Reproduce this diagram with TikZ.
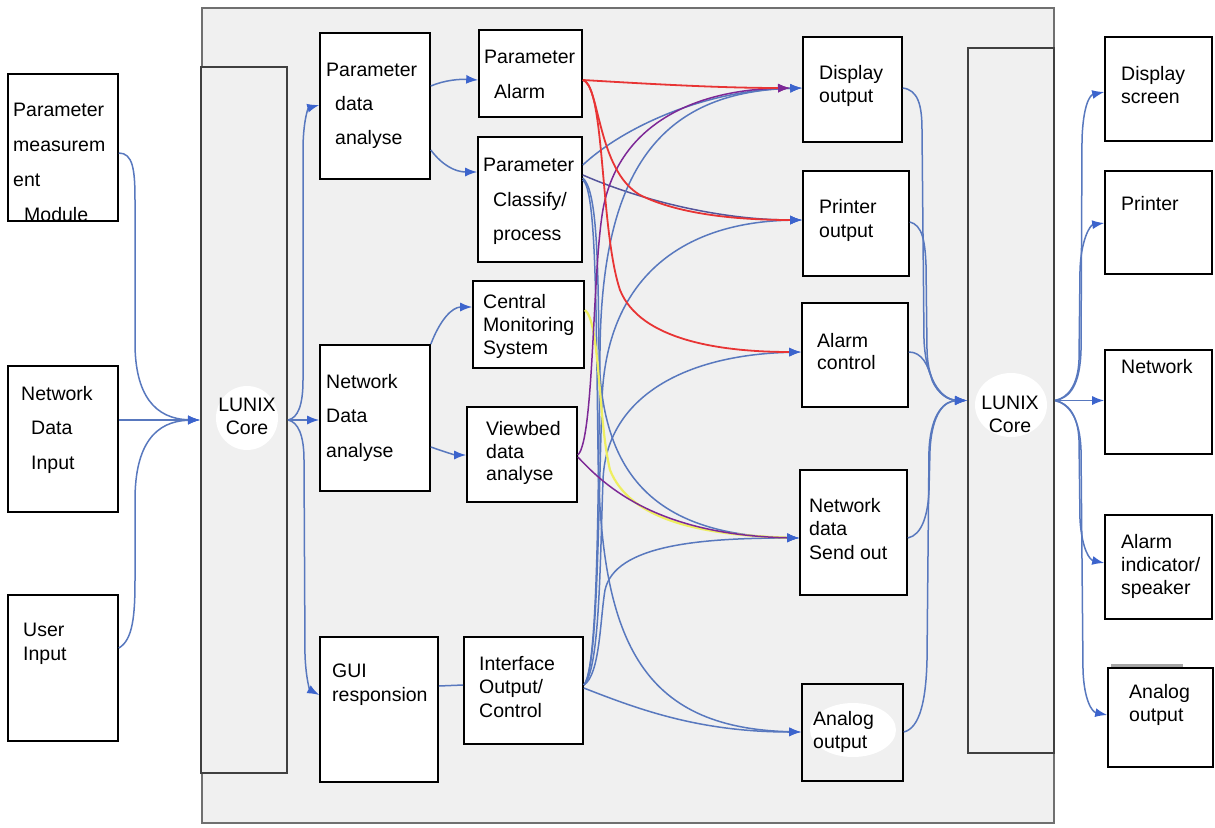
\documentclass[tikz,border=0pt]{standalone}
\usepackage{fontspec}
\setmainfont{Liberation Sans}
\usetikzlibrary{arrows.meta}

\definecolor{panelfill}{RGB}{240,240,240}
\definecolor{paneledge}{RGB}{112,112,112}
\definecolor{coreedge}{RGB}{64,64,64}
\definecolor{cline}{RGB}{88,120,190}
\definecolor{ctip}{RGB}{60,100,205}
\definecolor{credl}{RGB}{232,52,52}
\definecolor{cpurple}{RGB}{125,40,150}
\definecolor{cyellow}{RGB}{238,238,96}
\definecolor{cdark}{RGB}{85,85,155}

% multi-line label: name, position, line spacing, text
\newcommand{\boxtext}[4]{\node[lbl,font=\fontsize{19.5pt}{#3pt}\selectfont] (#1) at (#2) {#4};}

\begin{document}
\begin{tikzpicture}[x=1pt,y=-1pt,
  box/.style={draw=black,line width=1.6pt,fill=white,inner sep=0pt},
  corebox/.style={draw=coreedge,line width=2pt,fill=panelfill,inner sep=0pt},
  lbl/.style={anchor=north west,inner sep=0pt,align=left},
  corelbl/.style={anchor=north,inner sep=0pt,align=center,font=\fontsize{19.5pt}{23pt}\selectfont},
  conn/.style={draw=cline,line width=1.5pt,-{Latex[length=12pt,width=9pt,color=ctip]}},
  plain/.style={draw=cline,line width=1.5pt},
  redconn/.style={draw=credl,line width=1.8pt,-{Latex[length=12pt,width=9pt,color=ctip]}},
  purpconn/.style={draw=cpurple,line width=1.5pt,-{Latex[length=12pt,width=9pt,color=cpurple]}},
  yelconn/.style={draw=cyellow,line width=2.2pt,-{Latex[length=12pt,width=9pt,color=ctip]}}
]
\useasboundingbox (0,0) rectangle (1215,827);
\fill[white] (0,0) rectangle (1215,827);

% system panel
\draw[fill=panelfill,draw=paneledge,line width=2.2pt] (202,8) rectangle (1054,823);

% kernel columns
\node[corebox,minimum width=86,minimum height=706] (core1) at (244,420) {};
\node[corebox,minimum width=86,minimum height=705] (core2) at (1011,400.5) {};
\fill[white] (247,418) ellipse [x radius=31pt, y radius=32pt];
\fill[white] (1011,405) ellipse [x radius=36pt, y radius=32pt];
\node[corelbl] (core1t) at (247,398) {LUNIX\\Core};
\node[corelbl] (core2t) at (1010,396) {LUNIX\\Core};

% input devices
\node[box,minimum width=110,minimum height=147] (pm)  at (63,147.5) {};
\node[box,minimum width=110,minimum height=146] (ndi) at (63,439) {};
\node[box,minimum width=110,minimum height=146] (ui)  at (63,668) {};

% processing blocks
\node[box,minimum width=110,minimum height=146] (pda) at (375,106) {};
\node[box,minimum width=103,minimum height=87]  (pa)  at (530.5,73.5) {};
\node[box,minimum width=104,minimum height=125] (pc)  at (530,199.5) {};
\node[box,minimum width=111,minimum height=87]  (cms) at (528.5,324.5) {};
\node[box,minimum width=110,minimum height=146] (nda) at (375,418) {};
\node[box,minimum width=110,minimum height=95]  (vb)  at (522,454.5) {};
\node[box,minimum width=118,minimum height=145] (gui) at (379,709.5) {};
\node[box,minimum width=119,minimum height=107] (io)  at (523.5,690.5) {};

% output blocks
\node[box,minimum width=99,minimum height=105]  (do)  at (852.5,89.5) {};
\node[box,minimum width=106,minimum height=105] (po)  at (856,223.5) {};
\node[box,minimum width=106,minimum height=104] (ac)  at (855,355) {};
\node[box,minimum width=107,minimum height=125] (nso) at (853.5,532.5) {};
\node[box,minimum width=101,minimum height=97,fill=panelfill] (ao) at (852.5,732.5) {};
\fill[white] (853,730) ellipse [x radius=43pt, y radius=27pt];

% output devices
\node[box,minimum width=107,minimum height=104] (ds)  at (1158.5,89) {};
\node[box,minimum width=107,minimum height=103] (pr)  at (1158.5,222.5) {};
\node[box,minimum width=107,minimum height=104] (nw)  at (1158.5,402) {};
\node[box,minimum width=107,minimum height=104] (ai)  at (1158.5,567) {};
\node[box,minimum width=105,minimum height=99]  (ao2) at (1160.5,717.5) {};
\draw[gray!70,line width=2.4pt] (1111,665.5) -- (1183,665.5);

% free end shared by the two arrows into the display block
\coordinate (dpin) at (790,88);

% inputs -> kernel
\draw[conn] (pm.east |- 0,153) .. controls (133,153) and (135,170) .. (135,200) -- (135,343) .. controls (135,395) and (155,419) .. (core1.west);
\draw[conn] (ndi.east |- 0,420) -- (core1.west);
\draw[conn] (ui.east |- 0,648) .. controls (133,640) and (135,615) .. (135,580) -- (135,500) .. controls (135,445) and (155,421) .. (core1.west);

% kernel -> analysis blocks
\draw[conn] (core1.east) .. controls (298,418) and (303,405) .. (303,380) -- (303,150) .. controls (303,122) and (308,108) .. (pda.west |- 0,105);
\draw[conn] (core1.east) -- (nda.west |- 0,420);
\draw[conn] (core1.east) .. controls (298,422) and (304,435) .. (304,460) -- (305,655) .. controls (306,680) and (310,690) .. (gui.west |- 0,695);

% analysis -> second stage
\draw[conn] (pda.east |- 0,86) .. controls (445,80) and (460,79) .. (pa.west |- 0,80);
\draw[conn] (pda.east |- 0,150) .. controls (442,165) and (455,172) .. (pc.west |- 0,172);
\draw[conn] (nda.north east) .. controls (440,320) and (452,307) .. (cms.west |- 0,307);
\draw[conn] (nda.east |- 0,447) .. controls (445,452) and (455,455) .. (vb.west |- 0,455);
\draw[plain] (gui.east |- 0,686) -- (io.west |- 0,685);

% parameter classify -> outputs
\draw[conn] (pc.east |- 0,165) .. controls (620,130) and (700,90) .. (do.west |- 0,88);
\draw[conn,draw=cdark] (pc.east |- 0,175) .. controls (640,200) and (720,220) .. (po.west |- 0,220);
\draw[conn] (pc.east |- 0,178) .. controls (597,190) and (598,260) .. (599,350) .. controls (600,470) and (650,535) .. (nso.west |- 0,538);
\draw[conn] (pc.east |- 0,180) .. controls (596,190) and (596,300) .. (598,450) .. controls (600,640) and (640,728) .. (ao.west |- 0,732);

% interface output/control -> outputs
\draw[conn] (io.east |- 0,685) .. controls (598,670) and (598,500) .. (600,350) .. controls (602,170) and (660,92) .. (do.west |- 0,88);
\draw[conn] (io.east |- 0,685) .. controls (598,670) and (598,520) .. (602,400) .. controls (606,280) and (680,222) .. (po.west |- 0,220);
\draw[conn] (io.east |- 0,685) .. controls (600,670) and (600,560) .. (603,480) .. controls (606,400) and (680,355) .. (ac.west |- 0,352);
\draw[conn] (io.east |- 0,685) .. controls (600,675) and (600,620) .. (605,590) .. controls (615,545) and (700,538) .. (nso.west |- 0,538);
\draw[conn] (io.east |- 0,688) .. controls (640,710) and (700,732) .. (ao.west |- 0,732);

% central monitoring -> network send
\draw[yelconn] (cms.east |- 0,310) .. controls (600,320) and (598,420) .. (610,470) .. controls (630,520) and (700,535) .. (nso.west |- 0,538);

% viewbed -> outputs
\draw[purpconn] (vb.east |- 0,455) .. controls (595,440) and (592,250) .. (605,200) .. controls (625,120) and (700,90) .. (dpin);
\draw[conn,draw=cpurple] (vb.east |- 0,457) .. controls (600,480) and (650,535) .. (nso.west |- 0,538);

% parameter alarm -> outputs
\draw[redconn,-{Latex[length=12pt,width=9pt,color=cpurple]}] (pa.east |- 0,80) .. controls (650,84) and (720,88) .. (dpin);
\draw[redconn] (pa.east |- 0,80) .. controls (600,85) and (597,170) .. (640,195) .. controls (680,215) and (740,220) .. (po.west |- 0,220);
\draw[redconn] (pa.east |- 0,80) .. controls (605,85) and (600,230) .. (620,290) .. controls (640,340) and (720,352) .. (ac.west |- 0,352);

% outputs -> kernel
\draw[conn] (do.east |- 0,88) .. controls (918,90) and (922,105) .. (922,130) -- (924,340) .. controls (926,385) and (945,400) .. (core2.west);
\draw[conn] (po.east |- 0,222) .. controls (922,225) and (925,240) .. (926,265) -- (927,350) .. controls (928,388) and (945,400) .. (core2.west);
\draw[conn] (ac.east |- 0,352) .. controls (922,352) and (928,365) .. (932,380) .. controls (938,395) and (950,400) .. (core2.west);
\draw[conn] (nso.east |- 0,538) .. controls (922,535) and (928,515) .. (929,490) -- (930,450) .. controls (932,412) and (945,401) .. (core2.west);
\draw[conn] (ao.east |- 0,732) .. controls (920,728) and (926,700) .. (927,660) -- (929,450) .. controls (931,412) and (945,401) .. (core2.west);

% kernel -> output devices
\draw[conn] (core2.east) -- (nw.west |- 0,400.5);
\draw[conn] (core2.east) .. controls (1070,398) and (1080,385) .. (1081,350) -- (1082,140) .. controls (1083,105) and (1090,95) .. (ds.west |- 0,92);
\draw[conn] (core2.east) .. controls (1068,398) and (1078,385) .. (1079,360) -- (1080,270) .. controls (1081,240) and (1090,225) .. (pr.west |- 0,223);
\draw[conn] (core2.east) .. controls (1068,403) and (1078,415) .. (1079,440) -- (1080,520) .. controls (1082,550) and (1090,560) .. (ai.west |- 0,563);
\draw[conn] (core2.east) .. controls (1070,404) and (1080,420) .. (1081,450) -- (1083,670) .. controls (1084,700) and (1092,712) .. (ao2.west |- 0,715);

% labels
\boxtext{pmt}{13,103}{35}{Parameter\\measurem\\ent\\\hspace*{11pt}Module}
\boxtext{ndit}{21,386}{34.5}{Network\\\hspace*{10pt}Data\\\hspace*{10pt}Input}
\boxtext{uit}{23,623}{24}{User\\Input}
\boxtext{pdat}{326,63}{34}{Parameter\\\hspace*{9pt}data\\\hspace*{9pt}analyse}
\boxtext{pat}{484,50}{35}{Parameter\\\hspace*{10pt}Alarm}
\boxtext{pct}{483,158}{34.5}{Parameter\\\hspace*{10pt}Classify/\\\hspace*{10pt}process}
\boxtext{cmst}{483,294}{23}{Central\\Monitoring\\System}
\boxtext{ndat}{326,374}{34.5}{Network\\Data\\analyse}
\boxtext{vbt}{486,421}{22.7}{Viewbed\\data\\analyse}
\boxtext{guit}{332,664}{24}{GUI\\responsion}
\boxtext{iot}{479,656}{23.5}{Interface\\Output/\\Control}
\boxtext{dot}{819,65}{23.5}{Display\\output}
\boxtext{pot}{819,199}{24}{Printer\\output}
\boxtext{act}{817,333}{22}{Alarm\\control}
\boxtext{nsot}{809,498}{23.5}{Network\\data\\Send out}
\boxtext{aot}{813,711}{23}{Analog\\output}
\boxtext{dst}{1121,66}{23}{Display\\screen}
\boxtext{prt}{1121,196}{23}{Printer}
\boxtext{nwt}{1121,359}{23}{Network}
\boxtext{ait}{1121,534}{23}{Alarm\\indicator/\\speaker}
\boxtext{ao2t}{1129,684}{23}{Analog\\output}
\end{tikzpicture}
\end{document}
